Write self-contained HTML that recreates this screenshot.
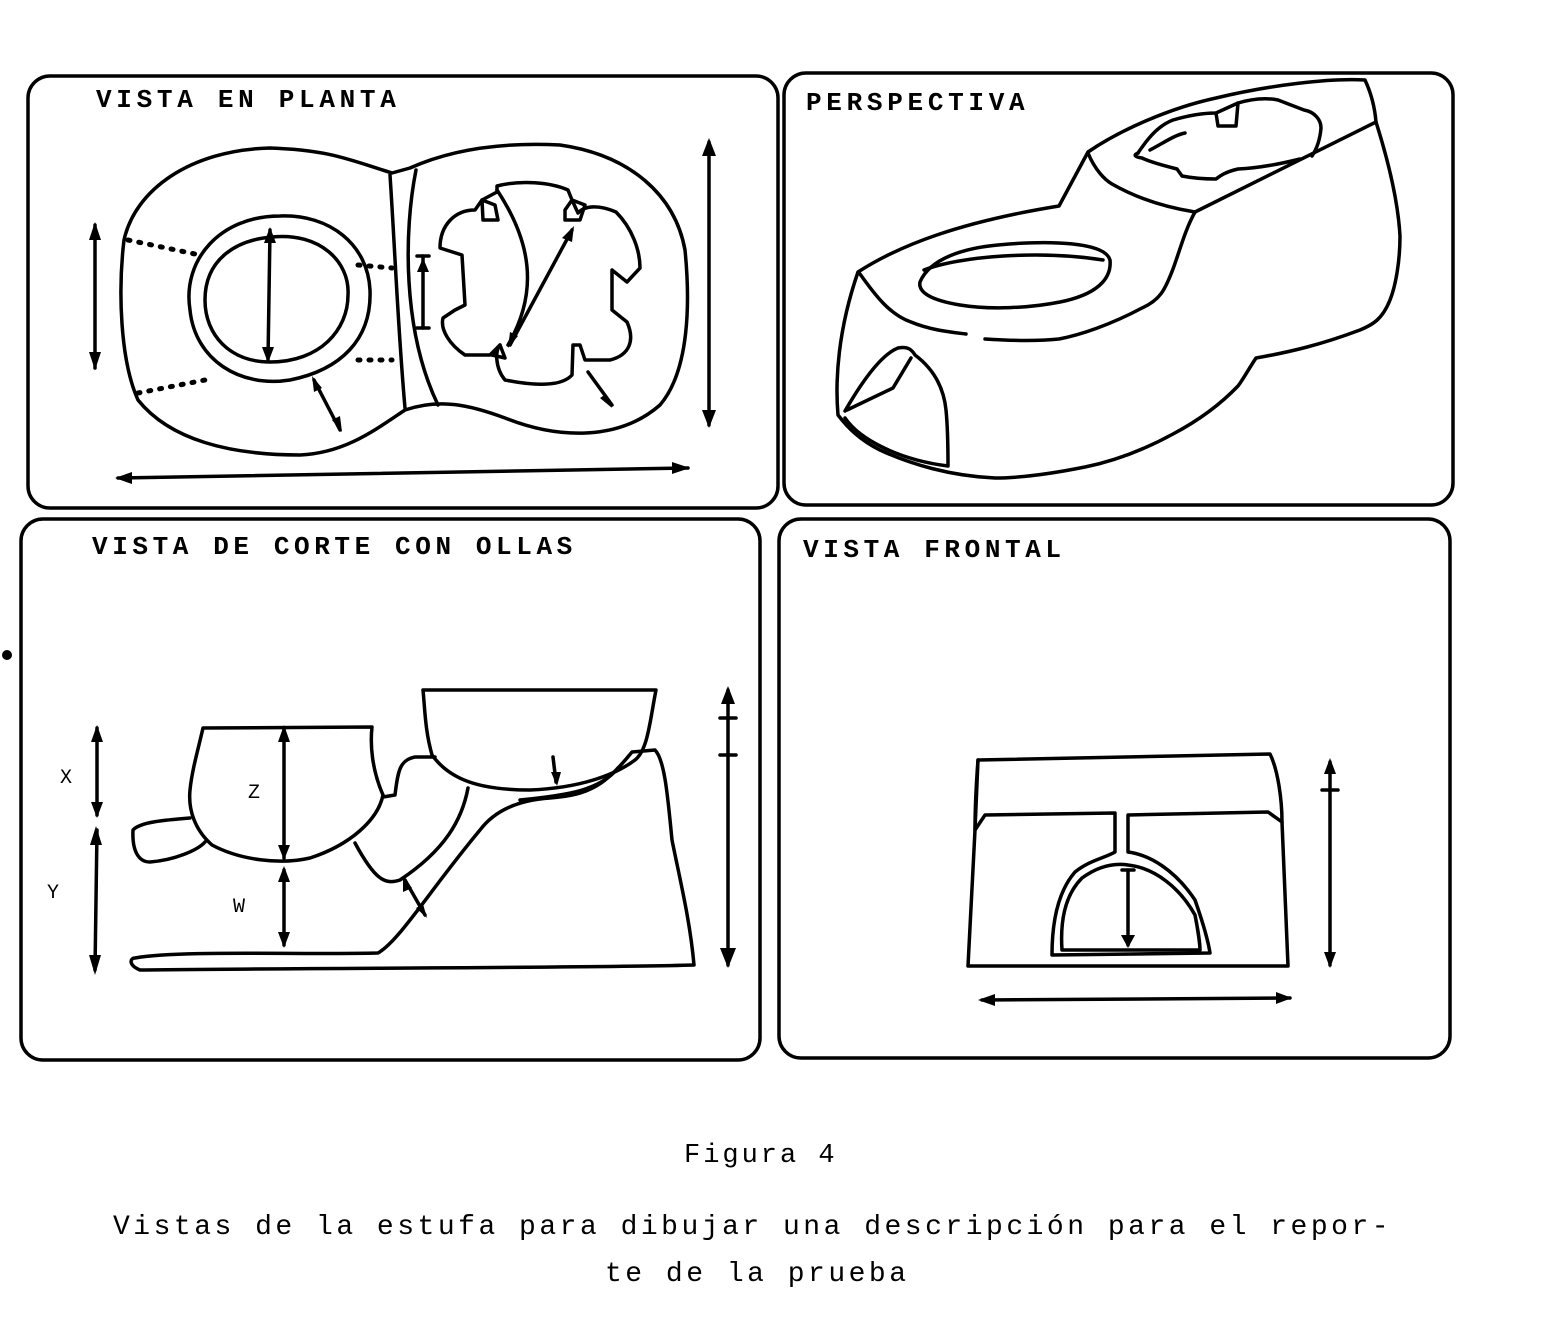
<!DOCTYPE html>
<html><head><style>
body{margin:0;background:#fff;}
svg{display:block}
text{font-family:"Liberation Mono",monospace;fill:#000;}
</style></head><body>
<svg width="1552" height="1330" viewBox="0 0 1552 1330" xmlns="http://www.w3.org/2000/svg">
<g fill="none" stroke="#000" stroke-width="3.5" stroke-linejoin="round" stroke-linecap="round">
<rect x="28" y="76" width="750" height="432" rx="22"/>
<rect x="784" y="73" width="669" height="432" rx="22"/>
<rect x="21" y="519" width="739" height="541" rx="22"/>
<rect x="779" y="519" width="671" height="539" rx="22"/>

<path d="M392 173 C350 160 330 150 270 148 C190 150 135 190 124 240 C118 290 120 360 138 400 C170 440 230 455 300 455 C345 453 375 430 405 410 C440 398 470 405 505 418 C560 440 620 440 660 405 C690 370 690 300 685 250 C675 195 630 155 560 145 C500 142 450 150 410 168 Z"/>
<path d="M390 175 C395 250 398 330 405 408"/>
<path d="M416 170 C404 230 402 330 438 405"/>
<path d="M280 216 C330 214 368 245 370 290 C372 340 340 370 290 380 C240 388 195 360 190 310 C182 260 220 216 280 216 Z"/>
<path d="M272 237 C320 232 350 262 348 295 C348 330 320 362 270 362 C230 362 205 335 205 300 C205 260 235 240 272 237 Z"/>
<path d="M497 186 C520 180 550 182 568 190 L572 200 L578 213 C585 205 600 205 616 212 C632 228 640 250 640 268 L627 282 L612 270 L612 310 L627 322 C635 340 630 355 610 360 L585 360 L580 345 L573 345 L572 375 C560 388 530 385 505 380 C495 368 495 350 500 345 L490 355 L465 355 C450 345 440 330 443 318 L455 310 L465 305 L462 255 L440 248 C440 225 455 210 475 210 L482 200 L497 192 Z"/>
<path d="M482 200 L495 205 L498 220 L483 220 Z" />
<path d="M565 210 L572 200 L585 205 L580 220 L565 220 Z"/>
<path d="M492 355 L500 345 L505 358 Z"/>
<path d="M497 190 C530 240 540 290 508 345"/>
<g stroke-dasharray="2 9" stroke-width="5">
<path d="M128 240 L195 254"/><path d="M138 393 L205 380"/>
<path d="M358 265 L392 268"/><path d="M358 360 L392 360"/>
</g>
<path d="M95 225 L95 368"/><path d="M270 230 L268 360"/><path d="M709 142 L709 425"/>
<path d="M118 478 L688 468"/><path d="M510 345 L572 230"/>
<path d="M314 380 L340 430"/><path d="M588 372 L612 405"/>
<path d="M423 256 L423 328"/><path d="M417 256 L429 256"/><path d="M417 328 L429 328"/>
</g>
<g fill="#000">
<polygon points="95,222 89,240 101,240"/><polygon points="95,370 89,352 101,352"/>
<polygon points="270,227 264,243 276,243"/><polygon points="268,363 262,347 274,347"/>
<polygon points="709,138 702,156 716,156"/><polygon points="709,428 702,410 716,410"/>
<polygon points="115,478 132,472 132,484"/><polygon points="690,468 672,462 672,474"/>
<polygon points="574,226 562,238 572,242"/><polygon points="508,348 510,332 518,336"/>
<polygon points="312,376 314,392 322,388"/><polygon points="342,432 332,420 340,416"/>
<polygon points="612,408 600,398 606,394"/>
<polygon points="423,258 417,272 429,272"/>
</g>

<g fill="none" stroke="#000" stroke-width="3.5" stroke-linejoin="round" stroke-linecap="round">
<path d="M1088 152 C1120 130 1170 108 1216 98 C1270 85 1330 78 1365 80 C1372 95 1375 110 1376 122 C1388 160 1398 200 1400 236 C1400 260 1396 285 1390 300 C1382 320 1372 325 1360 330 C1320 345 1290 352 1256 358 C1248 370 1244 378 1238 386 C1215 410 1190 425 1173 434 C1140 452 1110 462 1085 467 C1050 474 1020 478 995 478 C950 476 910 464 880 450 C860 440 848 428 838 415 C835 380 838 330 858 272 C900 245 960 222 1059 206 Z"/>
<path d="M1088 153 C1095 170 1105 180 1112 184 C1140 200 1170 208 1195 212 L1376 122"/>
<path d="M1195 212 C1185 230 1180 250 1173 269 C1165 290 1160 300 1142 308 C1110 325 1080 335 1059 339 C1030 342 1000 340 985 339"/>
<path d="M860 274 C875 295 890 315 911 322 C930 330 950 332 966 334"/>
<path d="M920 282 C930 258 965 248 998 245 C1050 240 1105 242 1110 260 C1112 280 1095 295 1060 302 C1030 308 990 310 960 305 C930 300 918 292 920 282 Z"/>
<path d="M924 270 C960 256 1040 250 1103 260"/>
<path d="M845 411 C860 385 880 355 898 348 C908 346 912 350 915 355 C935 370 944 390 946 410 C948 430 948 450 948 466 C900 460 860 440 845 418"/>
<path d="M847 410 L893 388 L911 358"/>
<path d="M1138 153 C1150 135 1160 125 1173 120 C1190 115 1205 113 1216 113 L1238 103 C1255 98 1268 98 1278 100 L1304 110 C1315 112 1321 120 1321 128 C1320 140 1316 150 1312 156"/>
<path d="M1300 159 C1280 164 1260 168 1238 169 C1225 172 1220 176 1216 179 C1205 179 1192 178 1182 176 L1177 169 C1165 166 1150 162 1142 158 C1135 157 1133 155 1138 153"/>
<path d="M1216 113 L1218 126 L1236 126 L1238 103"/>
<path d="M1150 150 C1165 142 1175 135 1185 133"/>
</g>

<g fill="none" stroke="#000" stroke-width="3.5" stroke-linejoin="round" stroke-linecap="round">
<path d="M203 728 L372 727 C370 745 372 770 383 795 C378 820 350 845 310 858 C280 865 240 860 212 845 C195 830 188 810 190 790 C192 770 198 750 203 728 Z"/>
<path d="M190 818 C165 820 140 822 133 830 C132 850 138 862 150 862 C175 860 198 850 205 842"/>
<path d="M423 690 L656 690 C650 720 648 750 635 760 C615 775 580 788 530 790 C480 790 450 780 432 755 C425 730 425 710 423 690 Z"/>
<path d="M383 797 L395 795 C398 770 400 760 415 757 L435 757"/>
<path d="M468 788 C462 820 445 850 400 880 C385 885 375 880 355 843"/>
<path d="M135 958 C180 950 300 955 378 953 C400 940 430 890 480 830 C495 810 520 800 550 798 C590 795 605 785 632 752 L655 750 C665 760 668 800 672 840 C680 880 690 920 694 965 C600 968 300 968 140 970 C128 965 130 958 135 958 Z"/>
<path d="M520 800 C570 795 600 790 618 768"/>
<path d="M97 728 L97 815"/><path d="M97 830 L95 970"/>
<path d="M284 728 L284 858"/><path d="M284 870 L284 945"/>
<path d="M728 690 L728 965"/><path d="M720 718 L736 718"/><path d="M720 755 L736 755"/>
<path d="M553 757 L556 782"/><path d="M405 880 L425 915"/>
</g>
<g fill="#000">
<polygon points="97,725 91,742 103,742"/><polygon points="97,818 91,802 103,802"/>
<polygon points="96,826 90,845 102,845"/><polygon points="95,975 89,955 101,955"/>
<polygon points="284,725 278,742 290,742"/><polygon points="284,860 278,845 290,845"/>
<polygon points="284,866 278,882 290,882"/><polygon points="284,948 278,932 290,932"/>
<polygon points="728,686 721,704 735,704"/><polygon points="728,968 720,948 736,948"/>
<polygon points="557,786 551,772 561,772"/>
<polygon points="403,876 403,892 412,888"/><polygon points="427,918 416,908 423,904"/>
</g>

<g fill="none" stroke="#000" stroke-width="3.5" stroke-linejoin="round" stroke-linecap="round">
<path d="M978 760 L1270 754 C1278 770 1282 800 1282 822 L1268 812 L1128 815 L1128 852 C1150 855 1175 870 1195 900 C1202 920 1208 940 1210 953 L1052 955 C1052 930 1055 895 1075 872 C1090 860 1105 858 1115 852 L1115 813 L985 815 L975 830 Z"/>
<path d="M978 760 C975 800 975 820 975 830 L968 966 L1288 966 L1282 822"/>
<path d="M1062 950 C1060 920 1065 895 1082 878 C1100 865 1115 863 1128 865 C1155 868 1180 888 1195 915 C1198 930 1200 945 1200 950 Z"/>
<path d="M1330 762 L1330 965"/><path d="M1322 790 L1338 790"/>
<path d="M982 1000 L1290 998"/>
<path d="M1128 870 L1128 945"/><path d="M1122 870 L1134 870"/>
</g>
<g fill="#000">
<polygon points="1330,758 1324,774 1336,774"/><polygon points="1330,968 1324,952 1336,952"/>
<polygon points="978,1000 995,994 995,1006"/><polygon points="1292,998 1276,992 1276,1004"/>
<polygon points="1128,948 1121,935 1135,935"/>
<circle cx="7" cy="655" r="5"/>
</g>

<g font-weight="bold">
<text x="96" y="107" font-size="26" letter-spacing="4.7">VISTA EN PLANTA</text>
<text x="806" y="110" font-size="26" letter-spacing="4.7">PERSPECTIVA</text>
<text x="92" y="554" font-size="26" letter-spacing="4.6">VISTA DE CORTE CON OLLAS</text>
<text x="803" y="557" font-size="26" letter-spacing="4.6">VISTA FRONTAL</text>
</g>
<text x="60" y="783" font-size="20">X</text>
<text x="47" y="898" font-size="20">Y</text>
<text x="248" y="798" font-size="20">Z</text>
<text x="233" y="912" font-size="20">W</text>
<text x="684" y="1162" font-size="27" letter-spacing="3">Figura 4</text>
<text x="113" y="1234" font-size="28" letter-spacing="3.5">Vistas de la estufa para dibujar una descripción para el repor-</text>
<text x="605" y="1281" font-size="28" letter-spacing="3.5">te de la prueba</text>
</svg>
</body></html>
